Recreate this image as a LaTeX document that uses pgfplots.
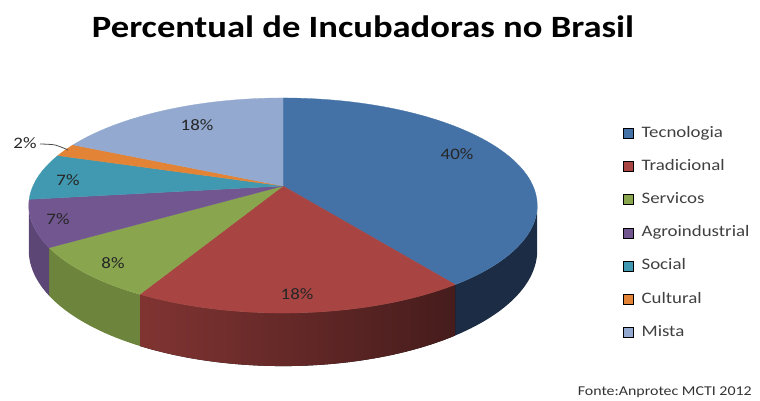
\documentclass[border=0pt]{standalone}
\usepackage{pgfplots}
\pgfplotsset{compat=1.18}
\usepgfplotslibrary{fillbetween}
\usepackage{fontspec}
\setmainfont{Carlito}
\newfontfamily\wide[FakeStretch=1.18]{Carlito}

\definecolor{tecT}{RGB}{68,114,167}
\definecolor{tecS}{RGB}{28,44,68}
\definecolor{traT}{RGB}{168,68,65}
\definecolor{traS1}{RGB}{128,52,50}
\definecolor{traS2}{RGB}{70,28,28}
\definecolor{serT}{RGB}{137,166,78}
\definecolor{serS}{RGB}{108,132,60}
\definecolor{agrT}{RGB}{113,86,143}
\definecolor{agrS}{RGB}{92,70,118}
\definecolor{socT}{RGB}{64,153,176}
\definecolor{culT}{RGB}{227,131,53}
\definecolor{misT}{RGB}{147,169,207}

\tikzset{lbl/.style={font=\wide\fontsize{16}{16}\selectfont, text=black!85, inner sep=0pt}}

% data (percent)
\def\vTec{40}\def\vTra{18}\def\vSer{8}\def\vAgr{7}\def\vSoc{7}\def\vCul{2}\def\vMis{18}
\pgfmathsetmacro\aA{0}%
\pgfmathsetmacro\aB{\aA+3.6*\vTec}%
\pgfmathsetmacro\aC{\aB+3.6*\vTra}%
\pgfmathsetmacro\aD{\aC+3.6*\vSer}%
\pgfmathsetmacro\aE{\aD+3.6*\vAgr}%
\pgfmathsetmacro\aF{\aE+3.6*\vSoc}%
\pgfmathsetmacro\aG{\aF+3.6*\vCul}%
\pgfmathsetmacro\aH{\aG+3.6*\vMis}%
\pgfmathsetmacro\sL{180-acos(1/5.51)}%
\pgfmathsetmacro\sR{180+acos(1/5.51)}%

\begin{document}%
\begin{tikzpicture}
\begin{axis}[
  width=760pt, height=401pt, scale only axis,
  xmin=0, xmax=760, ymin=0, ymax=401, y dir=reverse,
  enlargelimits=false,
  hide axis, clip=false,
  declare function={px(\t)=283+250*sin(\t)*5.51/(5.51+cos(\t));
                    py(\t,\h)=186+(\h-104*cos(\t))*5.51/(5.51+cos(\t));},
  legend image code/.code={\fill[#1] (0pt,-5pt) rectangle (10pt,5pt);},
  legend style={at={(axis cs:623,126)}, anchor=north west, draw=none, fill=none,
    font=\wide\fontsize{16}{16}\selectfont, text=black!75,
    row sep=19.2pt, column sep=8pt, inner sep=0pt,
    nodes={inner sep=0pt, text height=11pt, text depth=3pt}},
  legend cell align=left,
]
% ---- sides ----
\addplot[draw=none, name path=tecTop, domain=\sL:\aB, samples=40, variable=\t, forget plot] ({px(\t)},{py(\t,0)});
\addplot[draw=none, name path=tecBot, domain=\sL:\aB, samples=40, variable=\t, forget plot] ({px(\t)},{py(\t,43.4)});
\addplot[fill=tecS, draw=none, forget plot] fill between[of=tecTop and tecBot];

\addplot[draw=none, name path=traTop, domain=\aB:\aC, samples=50, variable=\t, forget plot] ({px(\t)},{py(\t,0)});
\addplot[draw=none, name path=traBot, domain=\aB:\aC, samples=50, variable=\t, forget plot] ({px(\t)},{py(\t,43.4)});
\addplot[left color=traS1, right color=traS2, draw=none, forget plot] fill between[of=traTop and traBot];

\addplot[draw=none, name path=serTop, domain=\aC:\aD, samples=30, variable=\t, forget plot] ({px(\t)},{py(\t,0)});
\addplot[draw=none, name path=serBot, domain=\aC:\aD, samples=30, variable=\t, forget plot] ({px(\t)},{py(\t,43.4)});
\addplot[fill=serS, draw=none, forget plot] fill between[of=serTop and serBot];

\addplot[draw=none, name path=agrTop, domain=\aD:\sR, samples=30, variable=\t, forget plot] ({px(\t)},{py(\t,0)});
\addplot[draw=none, name path=agrBot, domain=\aD:\sR, samples=30, variable=\t, forget plot] ({px(\t)},{py(\t,43.4)});
\addplot[fill=agrS, draw=none, forget plot] fill between[of=agrTop and agrBot];

% ---- top faces ----
\addplot[fill=tecT, draw=tecT, line width=0.3pt, domain=\aA:\aB, samples=80, variable=\t, forget plot] ({px(\t)},{py(\t,0)}) -- (283,186) -- cycle;
\addplot[fill=traT, draw=traT, line width=0.3pt, domain=\aB:\aC, samples=50, variable=\t, forget plot] ({px(\t)},{py(\t,0)}) -- (283,186) -- cycle;
\addplot[fill=serT, draw=serT, line width=0.3pt, domain=\aC:\aD, samples=30, variable=\t, forget plot] ({px(\t)},{py(\t,0)}) -- (283,186) -- cycle;
\addplot[fill=agrT, draw=agrT, line width=0.3pt, domain=\aD:\aE, samples=30, variable=\t, forget plot] ({px(\t)},{py(\t,0)}) -- (283,186) -- cycle;
\addplot[fill=socT, draw=socT, line width=0.3pt, domain=\aE:\aF, samples=30, variable=\t, forget plot] ({px(\t)},{py(\t,0)}) -- (283,186) -- cycle;
\addplot[fill=culT, draw=culT, line width=0.3pt, domain=\aF:\aG, samples=15, variable=\t, forget plot] ({px(\t)},{py(\t,0)}) -- (283,186) -- cycle;
\addplot[fill=misT, draw=misT, line width=0.3pt, domain=\aG:\aH, samples=50, variable=\t, forget plot] ({px(\t)},{py(\t,0)}) -- (283,186) -- cycle;

% leader line for 2%
\addplot[black!70, line width=0.8pt, smooth, forget plot] coordinates {(40,144) (55,145) (68,150)};

% labels
\node[lbl] at (axis cs:457,154) {40\%};
\node[lbl] at (axis cs:297,294) {18\%};
\node[lbl] at (axis cs:113,263) {8\%};
\node[lbl] at (axis cs:58,219) {7\%};
\node[lbl] at (axis cs:68,180) {7\%};
\node[lbl] at (axis cs:25,143) {2\%};
\node[lbl] at (axis cs:197,125) {18\%};

% title and source
\node[anchor=base, font=\wide\bfseries\fontsize{31}{31}\selectfont, text=black, inner sep=0pt] at (axis cs:363,38) {Percentual de Incubadoras no Brasil};
\node[anchor=base east, font=\wide\fontsize{13.5}{13.5}\selectfont, text=black!80, inner sep=0pt] at (axis cs:752,396) {Fonte:Anprotec MCTI 2012};

% legend
\addlegendimage{fill=tecT}\addlegendentry{Tecnologia}
\addlegendimage{fill=traT}\addlegendentry{Tradicional}
\addlegendimage{fill=serT}\addlegendentry{Servicos}
\addlegendimage{fill=agrT}\addlegendentry{Agroindustrial}
\addlegendimage{fill=socT}\addlegendentry{Social}
\addlegendimage{fill=culT}\addlegendentry{Cultural}
\addlegendimage{fill=misT}\addlegendentry{Mista}
\end{axis}
\pgfresetboundingbox
\useasboundingbox (0,0) rectangle (760pt,401pt);
\end{tikzpicture}%
\end{document}
